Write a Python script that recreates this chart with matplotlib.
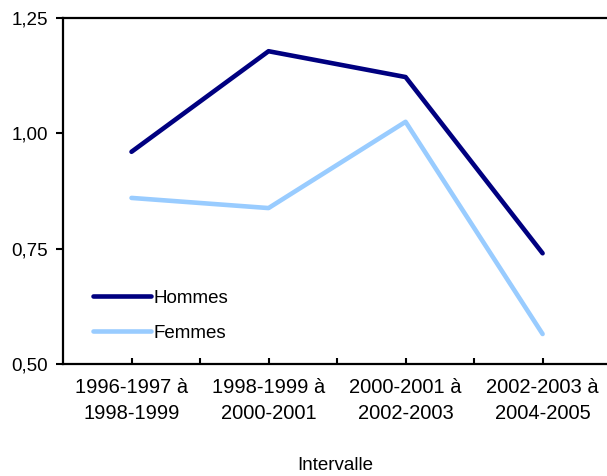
import matplotlib
matplotlib.use("Agg")
import matplotlib.pyplot as plt
from matplotlib.ticker import FuncFormatter

categories = ["1996-1997 à\n1998-1999", "1998-1999 à\n2000-2001",
              "2000-2001 à\n2002-2003", "2002-2003 à\n2004-2005"]
hommes = [0.96, 1.178, 1.122, 0.74]
femmes = [0.86, 0.838, 1.025, 0.565]
yticks = [0.50, 0.75, 1.00, 1.25]

plt.rcParams['font.family'] = ['Liberation Sans', 'DejaVu Sans']
fig = plt.figure(figsize=(6.07, 4.76), dpi=100)
ax = fig.add_axes([63/607, 1-364/476, 1-63/607, 346/476])

x = list(range(len(categories)))
ax.plot(x, hommes, color='#000080', lw=3.3, label='Hommes', solid_capstyle='round')
ax.plot(x, femmes, color='#99ccff', lw=3.3, label='Femmes', solid_capstyle='round')

ax.set_xlim(-0.5, 3.47)
ax.set_ylim(0.5, 1.25)
ax.set_yticks(yticks)
ax.yaxis.set_major_formatter(FuncFormatter(lambda v, p: f"{v:.2f}".replace('.', ',')))
ax.set_xticks(x)
ax.set_xticklabels(categories, fontsize=14.5, linespacing=1.45)
ax.set_xticks([0.5, 1.5, 2.5], minor=True)
ax.tick_params(axis='x', which='both', direction='in', length=4, width=1.5, pad=10)
ax.tick_params(axis='y', direction='out', length=5, width=1.5, labelsize=13.5, pad=6)

for s in ['left', 'bottom', 'top']:
    ax.spines[s].set_linewidth(1.6)
ax.spines['right'].set_visible(False)

ax.set_xlabel('Intervalle', fontsize=13.5, labelpad=25)

leg = ax.legend(loc='upper left', bbox_to_anchor=(0.055, 0.215), frameon=False,
                prop={'size': 13.5},
                handlelength=3.1, handletextpad=0.15, labelspacing=0.95,
                borderpad=0, borderaxespad=0)

fig.savefig('out.png', dpi=100)
